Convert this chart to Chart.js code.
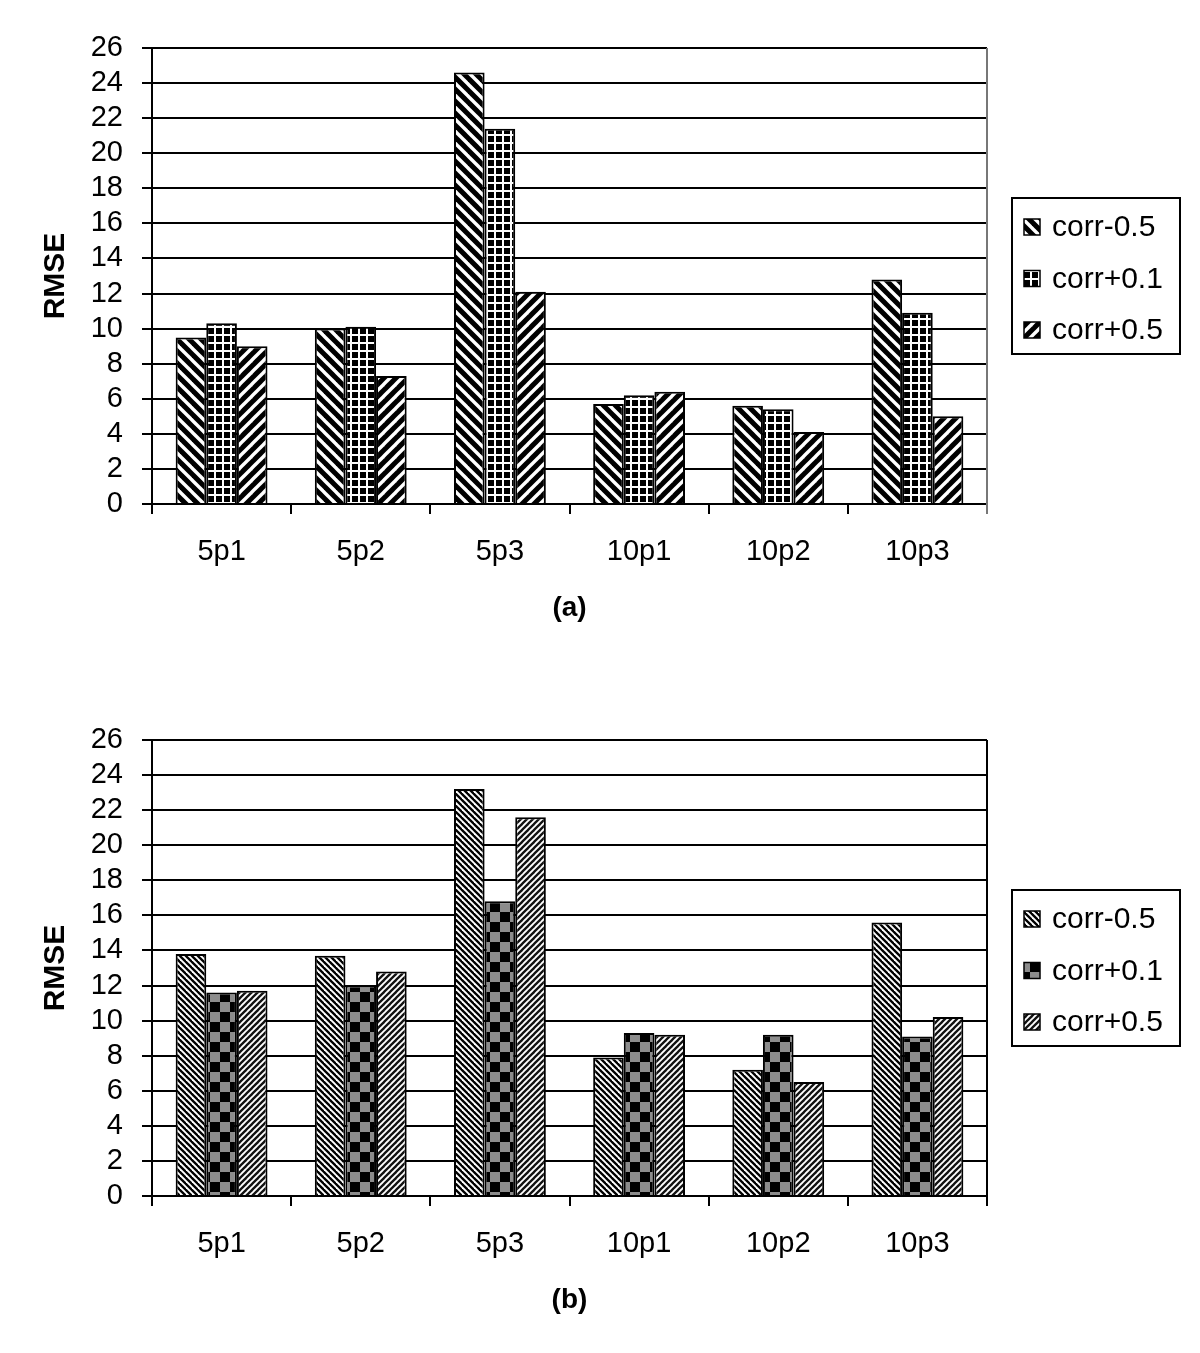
<!DOCTYPE html>
<html>
<head>
<meta charset="utf-8">
<script src="https://cdn.jsdelivr.net/npm/chart.js@4"></script>
<style>
  html, body { margin: 0; padding: 0; background: #fff; }
  body { width: 1200px; height: 1353px; position: relative; overflow: hidden; }
  .wrap { position: absolute; left: 0; width: 1200px; }
  #wa { top: 0; height: 692px; }
  #wb { top: 692px; height: 661px; }
</style>
</head>
<body>
<div class="wrap" id="wa"><canvas id="chartA" width="1200" height="692"></canvas></div>
<div class="wrap" id="wb"><canvas id="chartB" width="1200" height="661"></canvas></div>
<script>
// ---- data ----
const categories = ['5p1', '5p2', '5p3', '10p1', '10p2', '10p3'];
const seriesLabels = ['corr-0.5', 'corr+0.1', 'corr+0.5'];
const yTickValues = [0, 2, 4, 6, 8, 10, 12, 14, 16, 18, 20, 22, 24, 26];

// panel (a)
const aCorrMinus05 = [9.5, 10.0, 24.6, 5.7, 5.6, 12.8];
const aCorrPlus01  = [10.3, 10.1, 21.4, 6.2, 5.4, 10.9];
const aCorrPlus05  = [9.0, 7.3, 12.1, 6.4, 4.1, 5.0];

// panel (b)
const bCorrMinus05 = [13.8, 13.7, 23.2, 7.9, 7.2, 15.6];
const bCorrPlus01  = [11.6, 12.0, 16.8, 9.3, 9.2, 9.1];
const bCorrPlus05  = [11.7, 12.8, 21.6, 9.2, 6.5, 10.2];

const panelTitles = ['(a)', '(b)'];
const yTitle = 'RMSE';

// ---- patterns ----
const FONT = '"Liberation Sans", Arial, Helvetica, sans-serif';
const helperCtx = document.createElement('canvas').getContext('2d');

function tile(size, draw) {
  const c = document.createElement('canvas');
  c.width = size; c.height = size;
  const g = c.getContext('2d');
  draw(g, size);
  return helperCtx.createPattern(c, 'repeat');
}
function stripes(size, lineW, bg, fg, dir) {
  return tile(size, (g, s) => {
    g.fillStyle = bg; g.fillRect(0, 0, s, s);
    g.strokeStyle = fg; g.lineWidth = lineW;
    for (let k = -1; k <= 1; k++) {
      g.beginPath();
      if (dir === 'down') { g.moveTo(k * s - 2, -2); g.lineTo(k * s + s + 2, s + 2); }
      else { g.moveTo(k * s - 2, s + 2); g.lineTo(k * s + s + 2, -2); }
      g.stroke();
    }
  });
}
const patA = [
  stripes(12, 3.4, '#000', '#fff', 'down'),
  tile(8, (g, s) => { g.fillStyle = '#fff'; g.fillRect(0, 0, s, s); g.fillStyle = '#000'; g.fillRect(0, 0, 6, 6); }),
  stripes(12, 3.4, '#000', '#fff', 'up')
];
const patB = [
  stripes(6, 2.3, '#fff', '#000', 'down'),
  tile(20, (g, s) => { g.fillStyle = '#8c8c8c'; g.fillRect(0, 0, s, s); g.fillStyle = '#000'; g.fillRect(0, 0, 10, 10); g.fillRect(10, 10, 10, 10); }),
  stripes(6, 2.3, '#fff', '#111', 'up')
];

// ---- plot-area right border + boxed legend ----
const boxLegend = {
  id: 'boxLegend',
  beforeDatasetsDraw(chart, args, opts) {
    const ctx = chart.ctx, ca = chart.chartArea;
    ctx.save();
    ctx.strokeStyle = opts.edgeColor || '#000';
    ctx.lineWidth = 2;
    ctx.beginPath();
    ctx.moveTo(ca.right, ca.top);
    ctx.lineTo(ca.right, ca.bottom + 10);
    ctx.stroke();
    ctx.restore();
  },
  afterDraw(chart) {
    const ctx = chart.ctx, ca = chart.chartArea;
    const w = 168, h = 156;
    const left = ca.right + 25;
    const top = (ca.top + ca.bottom) / 2 - h / 2;
    ctx.save();
    ctx.lineWidth = 2; ctx.strokeStyle = '#000';
    ctx.strokeRect(left, top, w, h);
    chart.data.datasets.forEach((ds, i) => {
      const cy = top + 29 + i * 51.5;
      ctx.fillStyle = ds.backgroundColor;
      ctx.fillRect(left + 12, cy - 8, 16, 16);
      ctx.lineWidth = 1.5; ctx.strokeStyle = '#000';
      ctx.strokeRect(left + 12, cy - 8, 16, 16);
      ctx.fillStyle = '#000';
      ctx.font = '30px ' + FONT;
      ctx.textBaseline = 'middle';
      ctx.textAlign = 'left';
      ctx.fillText(ds.label, left + 40, cy + 1);
    });
    ctx.restore();
  }
};

function makeChart(id, values, pats, title, padBottom, rightEdgeColor) {
  const datasets = values.map((v, i) => ({
    label: seriesLabels[i],
    data: v,
    backgroundColor: pats[i],
    borderColor: '#000',
    borderWidth: 2,
    barPercentage: 1.0,
    categoryPercentage: 0.66
  }));
  return new Chart(document.getElementById(id), {
    type: 'bar',
    data: { labels: categories, datasets },
    plugins: [boxLegend],
    options: {
      responsive: false,
      animation: false,
      devicePixelRatio: 1,
      layout: { padding: { top: 48, left: 0, right: 213, bottom: padBottom } },
      plugins: {
        legend: { display: false },
        tooltip: { enabled: false },
        boxLegend: { edgeColor: rightEdgeColor }
      },
      scales: {
        x: {
          offset: true,
          grid: {
            offset: true,
            drawOnChartArea: false,
            color: '#000',
            tickColor: '#000',
            lineWidth: 2,
            tickLength: 10
          },
          border: { color: '#000', width: 2 },
          ticks: { color: '#000', font: { family: FONT, size: 29 }, padding: 21 },
          title: { display: true, text: title, color: '#000', font: { family: FONT, size: 28, weight: 'bold' }, padding: { top: 0, bottom: 9 } },
          afterFit: (s) => { s.height = 130; }
        },
        y: {
          min: 0, max: 26,
          afterBuildTicks: (s) => { s.ticks = yTickValues.map(v => ({ value: v })); },
          grid: { color: '#000', lineWidth: 2, tickLength: 10 },
          border: { color: '#000', width: 2 },
          ticks: { color: '#000', font: { family: FONT, size: 29 }, padding: 19, autoSkip: false, stepSize: 2 },
          title: { display: true, text: yTitle, color: '#000', font: { family: FONT, size: 30, weight: 'bold' }, padding: { top: 38, bottom: 0 } },
          afterFit: (s) => { s.width = 152; }
        }
      }
    }
  });
}

makeChart('chartA', [aCorrMinus05, aCorrPlus01, aCorrPlus05], patA, panelTitles[0], 58, '#777');
makeChart('chartB', [bCorrMinus05, bCorrPlus01, bCorrPlus05], patB, panelTitles[1], 27, '#000');
</script>
</body>
</html>
